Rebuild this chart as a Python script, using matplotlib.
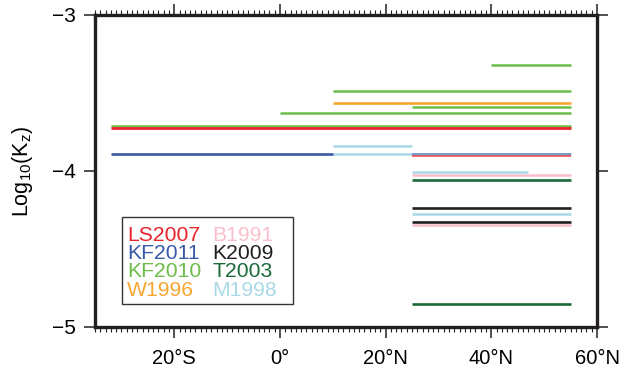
import numpy as np
import matplotlib
matplotlib.use("Agg")
import matplotlib.pyplot as plt
from matplotlib.patches import Rectangle
from matplotlib.ticker import MultipleLocator, FixedLocator

plt.rcParams['font.family'] = ['Liberation Sans', 'DejaVu Sans']
plt.rcParams['mathtext.fontset'] = 'custom'
plt.rcParams['mathtext.rm'] = 'Liberation Sans'
plt.rcParams['mathtext.it'] = 'Liberation Sans'

# latitude ranges (deg, negative = south) and log10(Kz) for each study
ls2007_lat0 = [-32, 25]
ls2007_lat1 = [55, 55]
ls2007_kz = [-3.727, -3.904]

kf2011_lat0 = [-32, 25]
kf2011_lat1 = [10, 55]
kf2011_kz = [-3.891, -3.888]

kf2010_lat0 = [40, 10, 25, 0, -32]
kf2010_lat1 = [55, 55, 55, 55, 55]
kf2010_kz = [-3.321, -3.487, -3.587, -3.629, -3.712]

w1996_lat0 = [10]
w1996_lat1 = [55]
w1996_kz = [-3.566]

b1991_lat0 = [25, 25]
b1991_lat1 = [55, 55]
b1991_kz = [-4.025, -4.347]

k2009_lat0 = [25, 25]
k2009_lat1 = [55, 55]
k2009_kz = [-4.236, -4.327]

t2003_lat0 = [25, 25]
t2003_lat1 = [55, 55]
t2003_kz = [-4.055, -4.853]

m1998_lat0 = [10, 10, 25, 25]
m1998_lat1 = [25, 55, 47, 55]
m1998_kz = [-3.842, -3.893, -4.004, -4.276]

studies = ["LS2007", "KF2011", "KF2010", "W1996", "B1991", "K2009", "T2003", "M1998"]
colors = {"LS2007": "#e8232b", "KF2011": "#3a58a8", "KF2010": "#6cbd4a", "W1996": "#f7a530",
          "B1991": "#f8bfcb", "K2009": "#231f20", "T2003": "#1b6a39", "M1998": "#a9d9e6"}

fig = plt.figure(figsize=(6.28, 3.72), dpi=100)
ax = fig.add_axes([95 / 628, 1 - 327 / 372, 502 / 628, 312 / 372])

ax.hlines(m1998_kz, m1998_lat0, m1998_lat1, color=colors["M1998"], lw=1.8)
ax.hlines(b1991_kz, b1991_lat0, b1991_lat1, color=colors["B1991"], lw=1.8)
ax.hlines(kf2010_kz, kf2010_lat0, kf2010_lat1, color=colors["KF2010"], lw=1.8)
ax.hlines(w1996_kz, w1996_lat0, w1996_lat1, color=colors["W1996"], lw=1.9)
ax.hlines(ls2007_kz[:1], ls2007_lat0[:1], ls2007_lat1[:1], color=colors["LS2007"], lw=2.0)
ax.hlines(ls2007_kz[1:], ls2007_lat0[1:], ls2007_lat1[1:], color=colors["LS2007"], lw=1.2, alpha=0.8)
ax.hlines(kf2011_kz[:1], kf2011_lat0[:1], kf2011_lat1[:1], color=colors["KF2011"], lw=1.9)
ax.hlines(kf2011_kz[1:], kf2011_lat0[1:], kf2011_lat1[1:], color=colors["KF2011"], lw=1.4, alpha=0.5)
ax.hlines(k2009_kz, k2009_lat0, k2009_lat1, color=colors["K2009"], lw=1.9)
ax.hlines(t2003_kz, t2003_lat0, t2003_lat1, color=colors["T2003"], lw=1.9)

ax.set_xlim(-35, 60)
ax.set_ylim(-5, -3)

ax.xaxis.set_major_locator(FixedLocator([-20, 0, 20, 40, 60]))
ax.set_xticklabels(["20°S", "0°", "20°N", "40°N", "60°N"])
ax.xaxis.set_minor_locator(MultipleLocator(1))
ax.set_yticks([-5, -4, -3])
ax.tick_params(axis='both', which='major', direction='out', length=8, width=1.1,
               labelsize=14.5, color='#231f20')
ax.tick_params(axis='x', which='both', top=True)
ax.tick_params(axis='x', which='major', pad=7.5)
ax.tick_params(axis='y', which='both', right=True)
ax.tick_params(axis='x', which='minor', direction='out', length=3.5, width=0.8, color='#231f20')
ax.tick_params(axis='y', which='major', pad=6, labelsize=15)

for sp in ax.spines.values():
    sp.set_linewidth(2.4)
    sp.set_color('#231f20')

ax.set_ylabel(r"Log$_{10}$(K$_{z}$)", fontsize=15.5)
ax.yaxis.set_label_coords(-0.12, 0.5)

# legend box with coloured names
ax.add_patch(Rectangle((0.053, 0.074), 0.341, 0.278, transform=ax.transAxes,
                       fill=False, lw=1.0, edgecolor='#333333'))
col_x = [0.064, 0.234]
row_y = [0.277, 0.218, 0.159, 0.100]
for i, name in enumerate(studies):
    ax.text(col_x[i // 4], row_y[i % 4], name, transform=ax.transAxes,
            color=colors[name], fontsize=15.2, va='baseline', ha='left')

fig.savefig("out.png", dpi=100)
